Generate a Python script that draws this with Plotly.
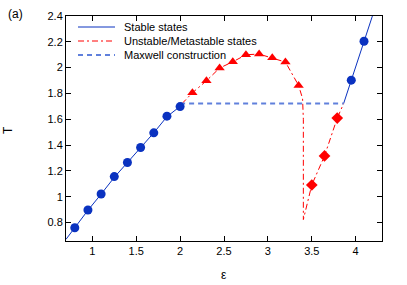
import plotly.graph_objects as go

# Stable states (circles)
stable_eps_left = [0.8, 0.95, 1.1, 1.25, 1.4, 1.55, 1.7, 1.85, 2.0]
stable_T_left = [0.76, 0.897, 1.021, 1.156, 1.265, 1.381, 1.495, 1.624, 1.698]
stable_eps_right = [3.95, 4.095]
stable_T_right = [1.903, 2.204]

# Unstable (triangles) and metastable (diamonds) points
unstable_eps = [2.14, 2.3, 2.45, 2.6, 2.75, 2.9, 3.05, 3.2, 3.35]
unstable_T = [1.805, 1.898, 1.997, 2.045, 2.10, 2.105, 2.077, 2.043, 1.862]
meta_eps = [3.5, 3.645, 3.79]
meta_T = [1.091, 1.316, 1.609]

# Curves
stable_line_left_eps = [0.7, 0.8, 0.95, 1.1, 1.25, 1.4, 1.55, 1.7, 1.85, 2.0, 2.02]
stable_line_left_T = [0.67, 0.76, 0.895, 1.02, 1.15, 1.265, 1.381, 1.495, 1.62, 1.70, 1.72]
stable_line_right_eps = [3.863, 3.95, 4.095, 4.21]
stable_line_right_T = [1.722, 1.903, 2.204, 2.44]
unstable_line_eps = [2.02, 2.14, 2.3, 2.45, 2.6, 2.75, 2.9, 3.05, 3.2, 3.35, 3.395, 3.404, 3.404, 3.5, 3.645, 3.79, 3.863]
unstable_line_T = [1.72, 1.805, 1.898, 1.997, 2.045, 2.10, 2.105, 2.077, 2.043, 1.862, 1.76, 1.6, 0.823, 1.091, 1.316, 1.609, 1.722]
maxwell_eps = [2.0, 3.863]
maxwell_T = [1.722, 1.722]

legend_labels = ['Stable states', 'Unstable/Metastable states', 'Maxwell construction']

BLUE = '#0a32c0'
RED = '#ff0000'
LBLUE = '#6080dc'
RED_DASH = '6px,3px,2px,3px'
BLUE_DASH = '5px,4px'

fig = go.Figure()
fig.add_trace(go.Scatter(x=stable_line_left_eps, y=stable_line_left_T, mode='lines',
                         line=dict(color=BLUE, width=1), name=legend_labels[0], showlegend=False))
fig.add_trace(go.Scatter(x=stable_line_right_eps, y=stable_line_right_T, mode='lines',
                         line=dict(color=BLUE, width=1), showlegend=False))
fig.add_trace(go.Scatter(x=unstable_line_eps, y=unstable_line_T, mode='lines',
                         line=dict(color=RED, width=1, dash=RED_DASH),
                         name=legend_labels[1], showlegend=False))
fig.add_trace(go.Scatter(x=maxwell_eps, y=maxwell_T, mode='lines',
                         line=dict(color=LBLUE, width=2, dash=BLUE_DASH),
                         name=legend_labels[2], showlegend=False))
fig.add_trace(go.Scatter(x=stable_eps_left + stable_eps_right, y=stable_T_left + stable_T_right,
                         mode='markers', marker=dict(color=BLUE, size=9, symbol='circle'),
                         showlegend=False))
fig.add_trace(go.Scatter(x=unstable_eps, y=unstable_T, mode='markers',
                         marker=dict(color=RED, size=9, symbol='triangle-up'), showlegend=False))
fig.add_trace(go.Scatter(x=meta_eps, y=meta_T, mode='markers',
                         marker=dict(color=RED, size=9, symbol='diamond'), showlegend=False))

axis_common = dict(showline=True, linecolor='black', linewidth=1, mirror='ticks',
                   ticks='inside', ticklen=5, tickcolor='black', showgrid=False,
                   zeroline=False, tickfont=dict(size=11, color='black'), automargin=False)
fig.update_xaxes(range=[0.7, 4.3], tick0=1, dtick=0.5, **axis_common)
fig.update_yaxes(range=[0.657, 2.4], tick0=0.8, dtick=0.2, **axis_common)

# Plot area in page pixels: left 66, right 382, top 16, bottom 241
PW, PH = 316, 225
def px(xp):
    return (xp - 66) / PW
def py(yp):
    return (241 - yp) / PH

fig.add_annotation(text='(a)', xref='paper', yref='paper', x=px(15), y=py(14),
                   xanchor='center', yanchor='middle', showarrow=False,
                   font=dict(size=12, color='black'))
fig.add_annotation(text='T', xref='paper', yref='paper', x=px(8), y=py(130),
                   xanchor='center', yanchor='middle', showarrow=False, textangle=-90,
                   font=dict(size=12, color='black'))
fig.add_annotation(text='ε', xref='paper', yref='paper', x=px(224), y=py(275),
                   xanchor='center', yanchor='middle', showarrow=False,
                   font=dict(size=12, color='black'))

# Legend drawn as key samples + labels
legend_styles = [dict(color=BLUE, width=1, dash='solid'),
                 dict(color=RED, width=1, dash=RED_DASH),
                 dict(color=LBLUE, width=2, dash=BLUE_DASH)]
legend_rows = [27, 41, 55]
for lab, sty, yr in zip(legend_labels, legend_styles, legend_rows):
    fig.add_shape(type='line', xref='paper', yref='paper', x0=px(78), x1=px(115),
                  y0=py(yr), y1=py(yr), line=sty)
    fig.add_annotation(text=lab, xref='paper', yref='paper', x=px(122), y=py(yr),
                       xanchor='left', yanchor='middle', showarrow=False,
                       font=dict(size=11, color='black'))

fig.update_layout(width=407, height=285, margin=dict(l=66, r=25, t=16, b=44),
                  paper_bgcolor='white', plot_bgcolor='white', showlegend=False,
                  font=dict(family='Liberation Sans, Arial, sans-serif', color='black'))
fig.write_html('out.html', config={'displayModeBar': False},
               post_script="document.body.style.margin='0';document.body.style.overflow='hidden';")
